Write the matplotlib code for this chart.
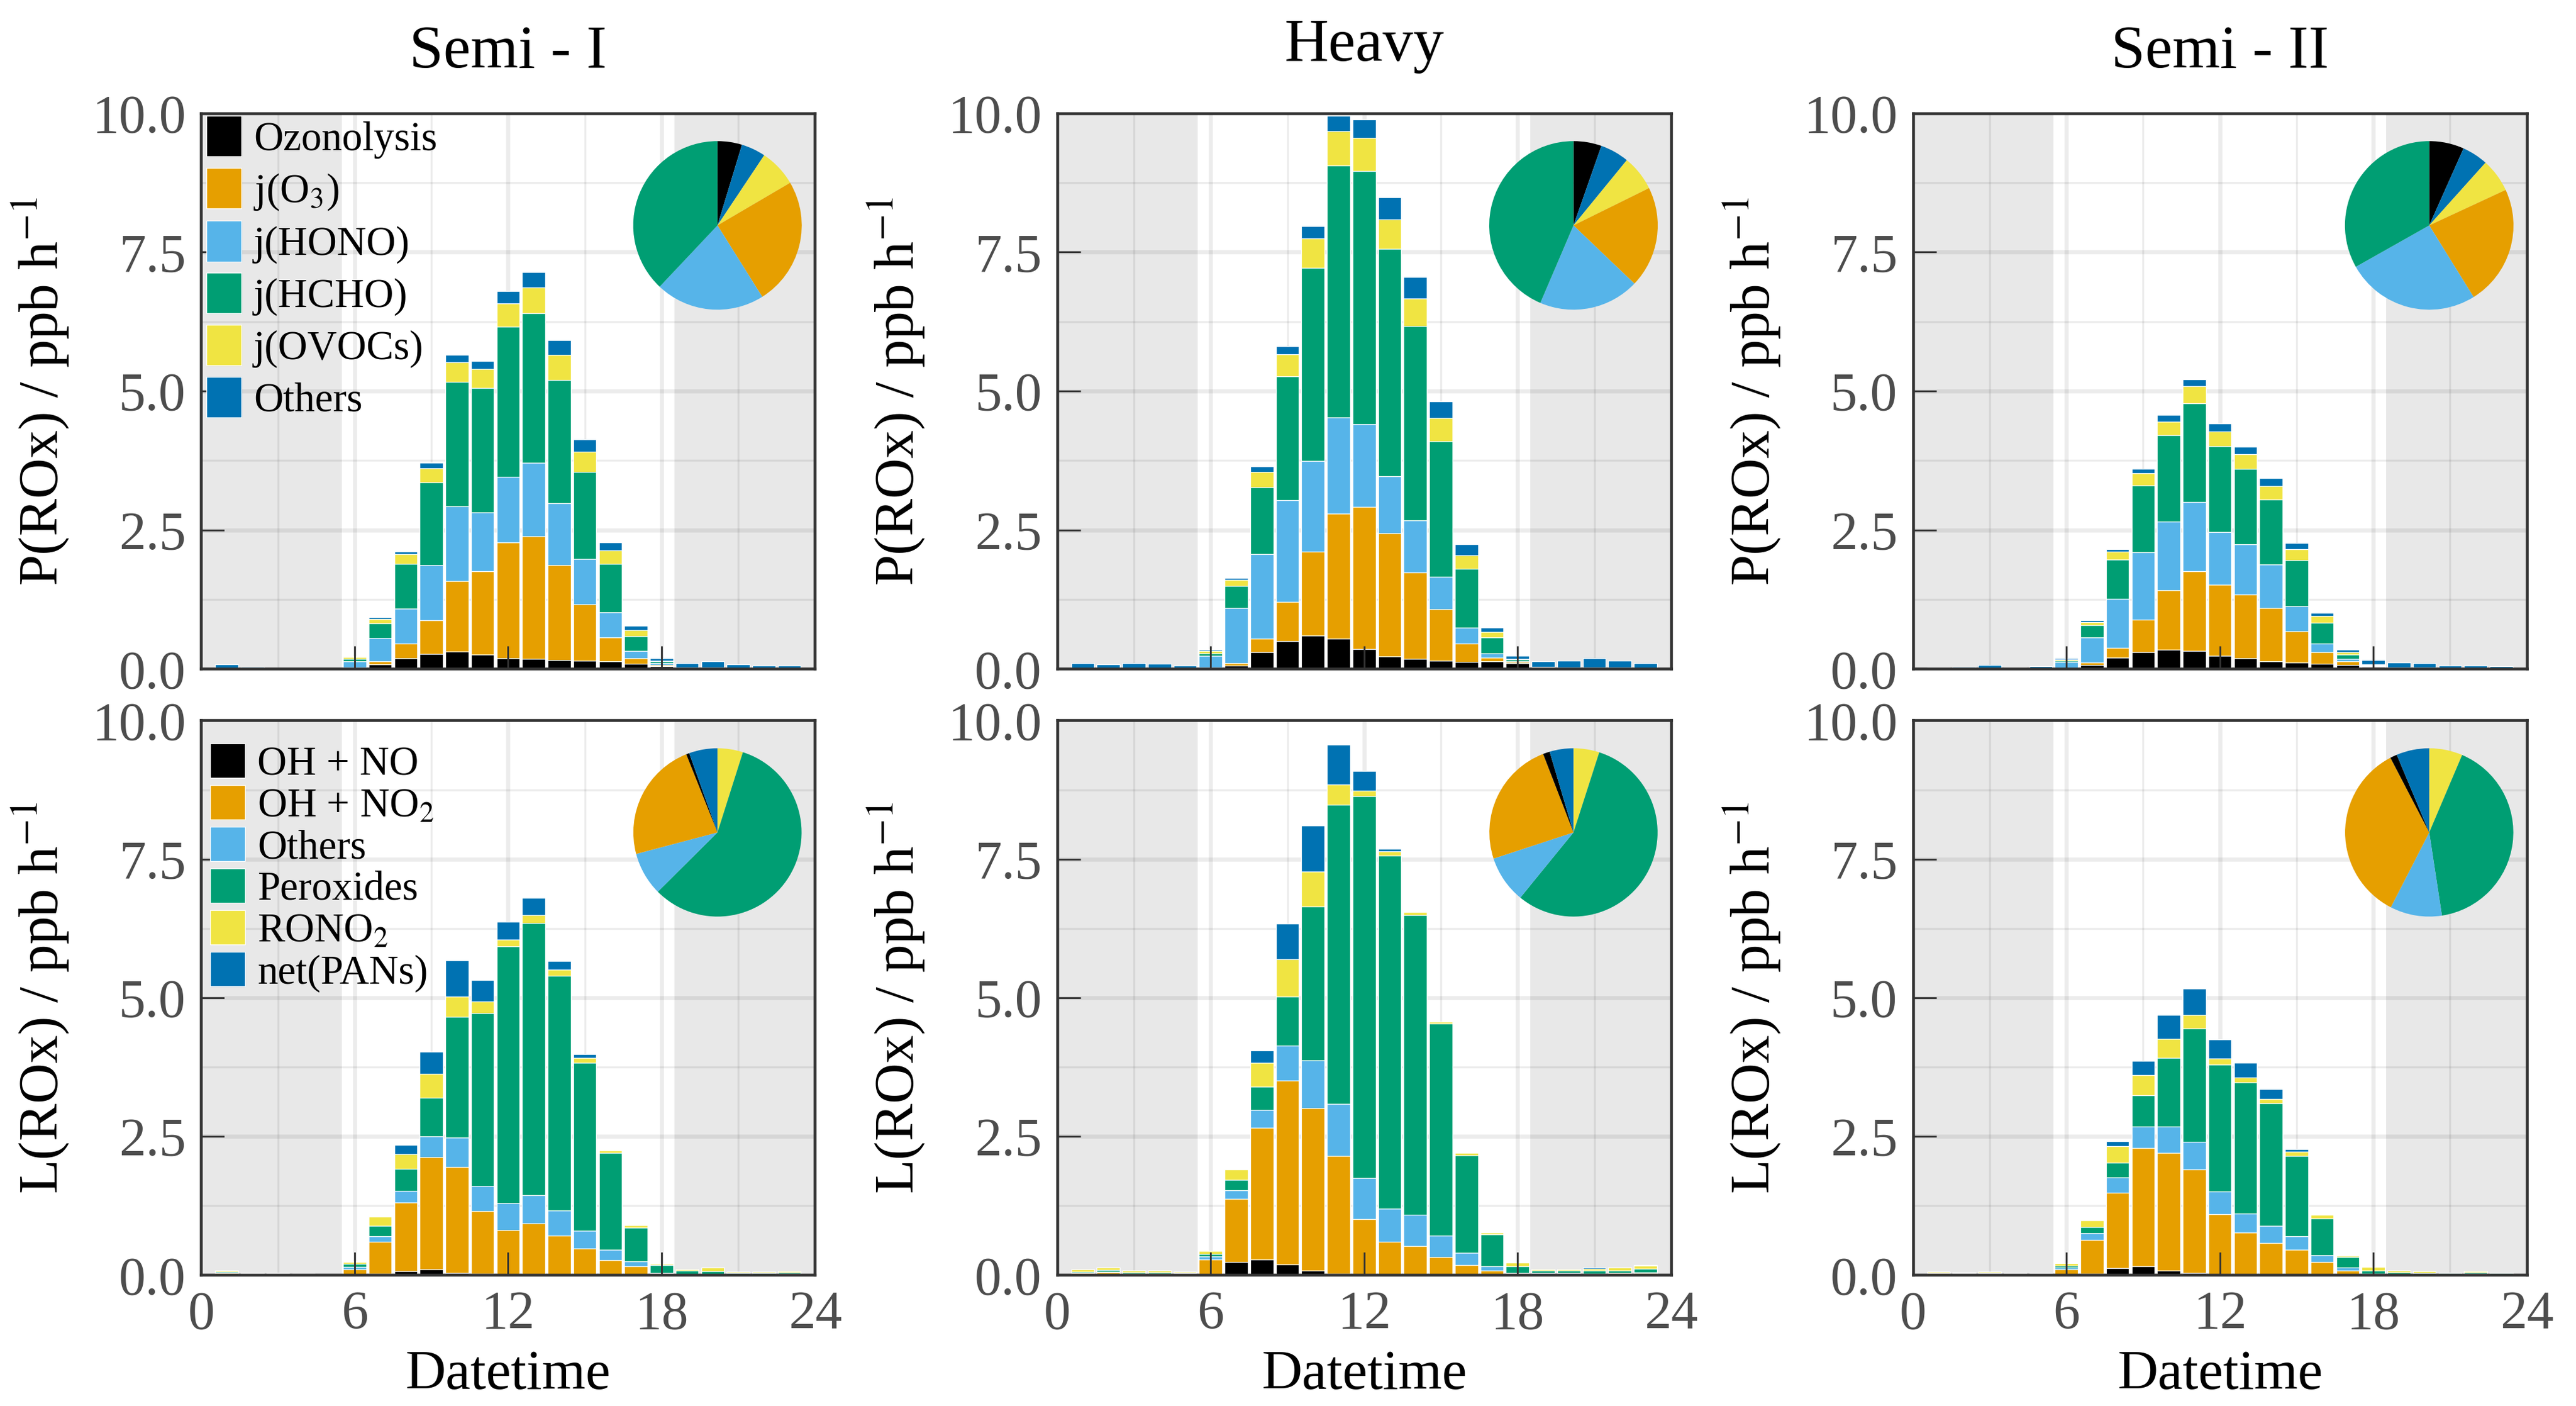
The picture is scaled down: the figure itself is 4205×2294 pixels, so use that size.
import matplotlib
matplotlib.use("Agg")
import matplotlib.pyplot as plt
import numpy as np

plt.rcParams["font.family"] = "serif"
plt.rcParams["font.serif"] = ["Liberation Serif", "DejaVu Serif"]
plt.rcParams["mathtext.fontset"] = "stix"

# hourly bins (bar centres)
hours = list(range(1, 24))

titles = ["Semi - I", "Heavy", "Semi - II"]

p_labels = ["Ozonolysis", "j(O$_3$)", "j(HONO)", "j(HCHO)", "j(OVOCs)", "Others"]
l_labels = ["OH + NO", "OH + NO$_2$", "Others", "Peroxides", "RONO$_2$", "net(PANs)"]
colors = ["#000000", "#E69F00", "#56B4E9", "#009E73", "#F0E442", "#0072B2"]

# pie wedge order (clockwise from 12 o'clock), indices into the label lists
p_pie_order = [0, 5, 4, 1, 2, 3]
l_pie_order = [4, 3, 2, 1, 0, 5]

# ---- production P(ROx), ppb/h, hours 1..23 ----
semi1_P = [
    [0.01, 0.005, 0, 0, 0, 0.01, 0.08, 0.19, 0.27, 0.31, 0.26, 0.19, 0.18, 0.16, 0.15, 0.13, 0.09, 0.05, 0.02, 0.02, 0.01, 0.01, 0.01],
    [0, 0, 0, 0, 0, 0.01, 0.05, 0.26, 0.60, 1.27, 1.50, 2.08, 2.21, 1.71, 1.01, 0.44, 0.10, 0.02, 0, 0, 0, 0, 0],
    [0, 0, 0, 0, 0, 0.12, 0.42, 0.63, 1.00, 1.35, 1.06, 1.18, 1.32, 1.11, 0.82, 0.45, 0.13, 0.03, 0, 0, 0, 0, 0],
    [0, 0, 0, 0, 0, 0.04, 0.27, 0.81, 1.49, 2.23, 2.24, 2.71, 2.69, 2.22, 1.56, 0.87, 0.27, 0.03, 0.005, 0, 0, 0, 0],
    [0, 0, 0, 0, 0, 0.03, 0.08, 0.17, 0.25, 0.36, 0.34, 0.42, 0.46, 0.45, 0.37, 0.24, 0.11, 0.02, 0.005, 0, 0, 0, 0],
    [0.07, 0.035, 0, 0, 0, 0.01, 0.03, 0.05, 0.10, 0.13, 0.14, 0.22, 0.28, 0.26, 0.22, 0.14, 0.07, 0.04, 0.07, 0.11, 0.07, 0.05, 0.05],
]
heavy_P = [
    [0.01, 0.01, 0.01, 0.01, 0.01, 0.01, 0.06, 0.30, 0.50, 0.60, 0.54, 0.36, 0.22, 0.18, 0.15, 0.12, 0.14, 0.10, 0.03, 0.03, 0.02, 0.02, 0.01],
    [0, 0, 0, 0, 0, 0.01, 0.04, 0.24, 0.71, 1.51, 2.25, 2.55, 2.22, 1.56, 0.92, 0.34, 0.06, 0.02, 0, 0, 0, 0, 0],
    [0, 0, 0, 0, 0, 0.21, 0.99, 1.52, 1.83, 1.63, 1.74, 1.49, 1.03, 0.93, 0.59, 0.28, 0.08, 0.02, 0, 0, 0, 0, 0],
    [0, 0, 0, 0, 0, 0.05, 0.40, 1.21, 2.22, 3.48, 4.53, 4.56, 4.09, 3.50, 2.44, 1.06, 0.28, 0.03, 0.01, 0, 0, 0, 0],
    [0, 0, 0, 0, 0, 0.04, 0.11, 0.27, 0.40, 0.53, 0.62, 0.59, 0.53, 0.49, 0.41, 0.24, 0.10, 0.01, 0, 0, 0, 0, 0],
    [0.09, 0.07, 0.09, 0.08, 0.05, 0.02, 0.04, 0.10, 0.15, 0.22, 0.27, 0.34, 0.39, 0.39, 0.30, 0.20, 0.08, 0.05, 0.10, 0.12, 0.17, 0.13, 0.09],
]
semi2_P = [
    [0, 0, 0.01, 0, 0, 0.01, 0.07, 0.20, 0.30, 0.34, 0.32, 0.23, 0.19, 0.14, 0.11, 0.09, 0.07, 0.04, 0.02, 0.02, 0.01, 0.01, 0.01],
    [0, 0, 0, 0, 0, 0, 0.04, 0.18, 0.59, 1.08, 1.44, 1.28, 1.15, 0.95, 0.57, 0.21, 0.07, 0.01, 0, 0, 0, 0, 0],
    [0, 0, 0, 0, 0, 0.11, 0.45, 0.88, 1.21, 1.23, 1.24, 0.95, 0.90, 0.79, 0.45, 0.15, 0.04, 0.01, 0, 0, 0, 0, 0],
    [0, 0, 0, 0, 0, 0.03, 0.23, 0.71, 1.20, 1.55, 1.78, 1.55, 1.36, 1.17, 0.83, 0.38, 0.08, 0.01, 0, 0, 0, 0, 0],
    [0, 0, 0, 0, 0, 0.02, 0.05, 0.14, 0.22, 0.25, 0.31, 0.26, 0.26, 0.24, 0.19, 0.12, 0.04, 0.01, 0, 0, 0, 0, 0],
    [0.02, 0.04, 0.06, 0.03, 0.05, 0.02, 0.03, 0.04, 0.08, 0.12, 0.12, 0.14, 0.14, 0.14, 0.11, 0.06, 0.04, 0.08, 0.09, 0.08, 0.05, 0.05, 0.04],
]

# ---- loss L(ROx), ppb/h, hours 1..23 ----
semi1_L = [
    [0, 0, 0, 0, 0, 0, 0.02, 0.07, 0.10, 0.04, 0.02, 0.01, 0.01, 0, 0, 0, 0, 0, 0, 0, 0, 0, 0],
    [0.03, 0.02, 0.01, 0.01, 0.01, 0.10, 0.58, 1.24, 2.02, 1.91, 1.13, 0.80, 0.92, 0.71, 0.48, 0.27, 0.16, 0.02, 0.01, 0.01, 0.01, 0.01, 0.02],
    [0.01, 0, 0, 0, 0, 0.05, 0.10, 0.21, 0.38, 0.53, 0.45, 0.48, 0.51, 0.45, 0.32, 0.19, 0.08, 0.02, 0, 0, 0, 0, 0],
    [0.02, 0.01, 0.01, 0.01, 0, 0.05, 0.19, 0.39, 0.70, 2.17, 3.12, 4.64, 4.91, 4.24, 3.03, 1.74, 0.61, 0.14, 0.07, 0.06, 0.03, 0.03, 0.03],
    [0.02, 0.01, 0.01, 0, 0, 0.03, 0.16, 0.27, 0.43, 0.37, 0.21, 0.12, 0.14, 0.11, 0.08, 0.05, 0.05, 0.02, 0.02, 0.06, 0.02, 0.02, 0.02],
    [0, 0, 0, 0, 0, 0.01, 0.01, 0.17, 0.39, 0.65, 0.39, 0.32, 0.31, 0.15, 0.07, 0.01, 0, 0, 0, 0, 0, 0, 0],
]
heavy_L = [
    [0, 0, 0, 0, 0, 0.01, 0.23, 0.28, 0.19, 0.08, 0.02, 0.01, 0, 0, 0, 0, 0, 0, 0, 0, 0, 0, 0],
    [0.03, 0.05, 0.02, 0.02, 0.02, 0.27, 1.14, 2.37, 3.32, 2.93, 2.13, 1.00, 0.60, 0.52, 0.32, 0.18, 0.08, 0.02, 0.01, 0.01, 0.01, 0.03, 0.04],
    [0, 0.01, 0, 0, 0, 0.05, 0.16, 0.33, 0.63, 0.86, 0.94, 0.74, 0.60, 0.57, 0.39, 0.22, 0.08, 0.02, 0.02, 0.02, 0.01, 0.01, 0.01],
    [0.03, 0.03, 0.03, 0.03, 0.02, 0.05, 0.19, 0.41, 0.88, 2.77, 5.39, 6.88, 6.36, 5.40, 3.82, 1.76, 0.57, 0.12, 0.05, 0.05, 0.06, 0.04, 0.06],
    [0.04, 0.05, 0.03, 0.03, 0.02, 0.05, 0.18, 0.44, 0.67, 0.63, 0.36, 0.10, 0.08, 0.06, 0.04, 0.04, 0.04, 0.06, 0.02, 0.02, 0.03, 0.05, 0.06],
    [0, 0, 0, 0, 0, 0, 0, 0.22, 0.64, 0.83, 0.72, 0.36, 0.04, 0, 0, 0, 0, 0, 0, 0, 0.03, 0.01, 0.01],
]
semi2_L = [
    [0, 0, 0, 0, 0, 0, 0.02, 0.12, 0.16, 0.08, 0.04, 0.01, 0.01, 0, 0, 0, 0, 0, 0, 0, 0, 0, 0],
    [0.03, 0.02, 0.02, 0.01, 0.01, 0.10, 0.61, 1.36, 2.13, 2.12, 1.86, 1.09, 0.76, 0.58, 0.46, 0.23, 0.08, 0.01, 0.01, 0.01, 0.01, 0.02, 0.01],
    [0, 0, 0.01, 0, 0, 0.03, 0.12, 0.28, 0.39, 0.48, 0.50, 0.40, 0.34, 0.31, 0.24, 0.13, 0.06, 0.01, 0, 0, 0, 0, 0],
    [0.01, 0.01, 0.01, 0.01, 0.01, 0.04, 0.11, 0.26, 0.56, 1.23, 2.05, 2.29, 2.36, 2.21, 1.45, 0.66, 0.18, 0.06, 0.04, 0.03, 0.02, 0.03, 0.02],
    [0.02, 0.02, 0.02, 0.01, 0.01, 0.04, 0.13, 0.30, 0.37, 0.35, 0.24, 0.11, 0.09, 0.07, 0.07, 0.07, 0.03, 0.07, 0.03, 0.03, 0.01, 0.02, 0.01],
    [0, 0, 0, 0, 0, 0, 0, 0.09, 0.25, 0.43, 0.47, 0.35, 0.27, 0.18, 0.05, 0, 0, 0, 0, 0, 0, 0, 0],
]

tick_col = "#4d4d4d"
frame_col = "#333333"


def style_axis(ax, bottom_row):
    ax.set_xlim(0, 24)
    ax.set_ylim(0, 10)
    # night shading
    ax.axvspan(0, 5.5, color="#e8e8e8", lw=0, zorder=0)
    ax.axvspan(18.5, 24, color="#e8e8e8", lw=0, zorder=0)
    # grid (major + minor, ggplot-like)
    for x in [0, 6, 12, 18, 24]:
        ax.axvline(x, color="k", alpha=0.075, lw=1.6, zorder=0.5)
    for x in [3, 9, 15, 21]:
        ax.axvline(x, color="k", alpha=0.075, lw=0.8, zorder=0.5)
    for y in [0, 2.5, 5, 7.5, 10]:
        ax.axhline(y, color="k", alpha=0.075, lw=1.6, zorder=0.5)
    for y in [1.25, 3.75, 6.25, 8.75]:
        ax.axhline(y, color="k", alpha=0.075, lw=0.8, zorder=0.5)
    ax.set_xticks([0, 6, 12, 18, 24])
    ax.set_yticks([0, 2.5, 5, 7.5, 10])
    ax.set_yticklabels(["0.0", "2.5", "5.0", "7.5", "10.0"])
    ax.tick_params(direction="in", length=9, width=0.7, color=frame_col,
                   labelcolor=tick_col, labelsize=21, pad=6)
    if bottom_row:
        ax.set_xlabel("Datetime", fontsize=22, labelpad=4)
    else:
        ax.tick_params(axis="x", labelbottom=False)
    for sp in ax.spines.values():
        sp.set_color(frame_col)
        sp.set_linewidth(1.1)
        sp.set_zorder(3)


def stacked(ax, comps):
    bottom = np.zeros(len(hours))
    handles = []
    for vals, c in zip(comps, colors):
        b = ax.bar(hours, vals, bottom=bottom, width=0.9, color=c,
                   edgecolor="white", linewidth=0.3, zorder=1)
        handles.append(b)
        bottom += np.array(vals)
    return handles


def add_pie(ax, comps, order):
    ins = ax.inset_axes([0.841 - 0.1372, 0.798 - 0.1517, 0.2745, 0.3035])
    sums = [np.sum(comps[i]) for i in order]
    ins.pie(sums, colors=[colors[i] for i in order], startangle=90,
            counterclock=False, wedgeprops=dict(linewidth=0))
    ins.set_xlim(-1, 1)
    ins.set_ylim(-1, 1)
    ins.set_aspect("equal")
    ins.axis("off")


fig = plt.figure(figsize=(4205 / 300, 2294 / 300), dpi=300)
lefts = [0.0781, 0.4104, 0.7426]
width = 0.2383
P_sets = [semi1_P, heavy_P, semi2_P]
L_sets = [semi1_L, heavy_L, semi2_L]

for i in range(3):
    axp = fig.add_axes([lefts[i], 0.5243, width, 0.3952])
    axl = fig.add_axes([lefts[i], 0.0932, width, 0.3944])

    hp = stacked(axp, P_sets[i])
    hl = stacked(axl, L_sets[i])
    style_axis(axp, False)
    style_axis(axl, True)
    add_pie(axp, P_sets[i], p_pie_order)
    add_pie(axl, L_sets[i], l_pie_order)

    axp.set_ylabel("P(ROx) / ppb h$^{-1}$", fontsize=22, labelpad=8)
    axl.set_ylabel("L(ROx) / ppb h$^{-1}$", fontsize=22, labelpad=8)
    axp.set_title(titles[i], fontsize=24, pad=20.5 if i == 1 else 18)

    if i == 0:
        axp.legend(hp, p_labels, loc="upper left", bbox_to_anchor=(0.009, 0.995),
                   frameon=False, fontsize=16, borderpad=0, borderaxespad=0,
                   handlelength=0.85, handleheight=1.15, labelspacing=0.22,
                   handletextpad=0.3)
        axl.legend(hl, l_labels, loc="upper left", bbox_to_anchor=(0.015, 0.958),
                   frameon=False, fontsize=16, borderpad=0, borderaxespad=0,
                   handlelength=0.85, handleheight=0.9, labelspacing=0.05,
                   handletextpad=0.3)

fig.savefig("out.png", dpi=300)
